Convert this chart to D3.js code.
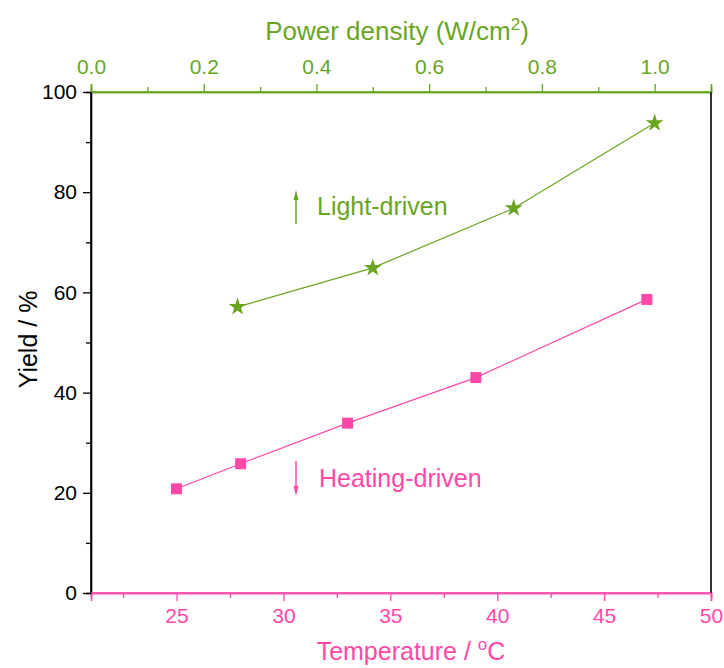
<!DOCTYPE html>
<html>
<head>
<meta charset="utf-8">
<script src="https://cdn.jsdelivr.net/npm/d3@7"></script>
<style>
  body { margin: 0; background: #fff; }
  text { font-family: "Liberation Sans", Arial, sans-serif; }
</style>
</head>
<body>
<div id="chart"></div>
<script>
// heating-driven series (temperature vs yield)
let heatTemp  = [25, 28, 33, 39, 47];
let heatYield = [20.8, 25.8, 33.9, 43.0, 58.6];

// light-driven series (power density vs yield)
let lightPower = [0.26, 0.50, 0.75, 1.00];
let lightYield = [57.1, 64.9, 76.8, 93.8];

let tempTicks  = [25, 30, 35, 40, 45, 50];
let powerTicks = [0.0, 0.2, 0.4, 0.6, 0.8, 1.0];
let yieldTicks = [0, 20, 40, 60, 80, 100];

let green = "#6aa51f";
let pink  = "#ff48a8";

let margin = {top: 92, right: 13, bottom: 75, left: 91};
let width = 724 - margin.left - margin.right,
    height = 668 - margin.top - margin.bottom;

let svg = d3.select("#chart").append("svg")
    .attr("width", 724)
    .attr("height", 668);

let g = svg.append("g")
    .attr("transform", `translate(${margin.left},${margin.top})`);

let xTemp  = d3.scaleLinear().domain([21, 50]).range([0, width]);
let xPower = d3.scaleLinear().domain([0, 1.1]).range([0, width]);
let y      = d3.scaleLinear().domain([0, 100]).range([height, 0]);

let minorTemp = d3.range(22.5, 50, 5);
let minorPower = d3.range(0.1, 1.1, 0.2);
let minorYield = d3.range(10, 100, 20);

function styleAxis(sel, color) {
    sel.attr("font-size", null).attr("font-family", null);
    sel.select(".domain").attr("stroke", color).attr("stroke-width", 1.6);
    sel.selectAll(".tick line").attr("stroke", color).attr("stroke-width", 1.3);
    sel.selectAll(".tick text")
        .attr("fill", color)
        .style("font-size", "21px");
}

// bottom axis (temperature)
let bottomMinor = g.append("g")
    .attr("transform", `translate(0,${height})`)
    .call(d3.axisBottom(xTemp).tickValues(minorTemp).tickSize(5).tickFormat(""));
styleAxis(bottomMinor, pink);
let bottomAxis = g.append("g")
    .attr("transform", `translate(0,${height})`)
    .call(d3.axisBottom(xTemp).tickValues(tempTicks).tickSize(8).tickPadding(7).tickFormat(d3.format("d")));
styleAxis(bottomAxis, pink);

// top axis (power density)
let topMinor = g.append("g")
    .call(d3.axisTop(xPower).tickValues(minorPower).tickSize(5).tickFormat(""));
styleAxis(topMinor, green);
let topAxis = g.append("g")
    .call(d3.axisTop(xPower).tickValues(powerTicks).tickSize(8).tickPadding(10).tickFormat(d3.format(".1f")));
styleAxis(topAxis, green);

// left axis (yield)
let leftMinor = g.append("g")
    .call(d3.axisLeft(y).tickValues(minorYield).tickSize(5).tickFormat(""));
styleAxis(leftMinor, "#000");
let leftAxis = g.append("g")
    .call(d3.axisLeft(y).tickValues(yieldTicks).tickSize(8).tickPadding(6).tickFormat(d3.format("d")));
styleAxis(leftAxis, "#000");
leftAxis.select(".domain").attr("d", `M0,${height}V0`);

// right border
g.append("line")
    .attr("x1", width).attr("x2", width)
    .attr("y1", 0).attr("y2", height)
    .attr("stroke", "#000").attr("stroke-width", 1.6);

// coloured top/bottom lines over the frame
g.append("line").attr("x1", 0).attr("x2", width).attr("y1", 0).attr("y2", 0)
    .attr("stroke", green).attr("stroke-width", 1.6);
g.append("line").attr("x1", 0).attr("x2", width).attr("y1", height).attr("y2", height)
    .attr("stroke", pink).attr("stroke-width", 1.6);

// axis titles
svg.append("text")
    .attr("x", margin.left + width / 2 - 4)
    .attr("y", 40)
    .attr("text-anchor", "middle")
    .attr("fill", green)
    .attr("font-size", 26)
    .html('Power density (W/cm<tspan dy="-10" font-size="17">2</tspan><tspan dy="10">)</tspan>');

svg.append("text")
    .attr("x", margin.left + width / 2 + 10)
    .attr("y", 660)
    .attr("text-anchor", "middle")
    .attr("fill", pink)
    .attr("font-size", 25)
    .html('Temperature / <tspan dy="-10" font-size="17">o</tspan><tspan dy="10">C</tspan>');

svg.append("text")
    .attr("transform", `translate(37,${margin.top + height / 2 - 3}) rotate(-90)`)
    .attr("text-anchor", "middle")
    .attr("fill", "#000")
    .attr("font-size", 25)
    .text("Yield / %");

// heating-driven line + squares
let heatData = heatTemp.map((t, i) => ({x: t, y: heatYield[i]}));
g.append("path")
    .datum(heatData)
    .attr("fill", "none")
    .attr("stroke", pink)
    .attr("stroke-width", 1.2)
    .attr("d", d3.line().x(d => xTemp(d.x)).y(d => y(d.y)));

g.selectAll(".sq")
    .data(heatData)
    .enter().append("rect")
    .attr("class", "sq")
    .attr("x", d => xTemp(d.x) - 5.5)
    .attr("y", d => y(d.y) - 5.5)
    .attr("width", 11)
    .attr("height", 11)
    .attr("fill", pink);

// light-driven line + stars
let lightData = lightPower.map((p, i) => ({x: p, y: lightYield[i]}));
g.append("path")
    .datum(lightData)
    .attr("fill", "none")
    .attr("stroke", green)
    .attr("stroke-width", 1.2)
    .attr("d", d3.line().x(d => xPower(d.x)).y(d => y(d.y)));

let star = d3.symbol().type(d3.symbolStar).size(100);
g.selectAll(".st")
    .data(lightData)
    .enter().append("path")
    .attr("class", "st")
    .attr("transform", d => `translate(${xPower(d.x)},${y(d.y)})`)
    .attr("d", star)
    .attr("fill", green);

// annotation arrows + labels
function arrow(x, y0, y1, color) {
    let dir = y1 < y0 ? 1 : -1;
    svg.append("line")
        .attr("x1", x).attr("x2", x)
        .attr("y1", y0).attr("y2", y1 + dir * 8)
        .attr("stroke", color).attr("stroke-width", 1.5);
    svg.append("path")
        .attr("d", `M${x},${y1}L${x - 2.5},${y1 + dir * 10}L${x + 2.5},${y1 + dir * 10}Z`)
        .attr("fill", color);
}

arrow(296, 224, 190, green);
svg.append("text")
    .attr("x", 317).attr("y", 215)
    .attr("fill", green)
    .attr("font-size", 25)
    .text("Light-driven");

arrow(296, 461, 496, pink);
svg.append("text")
    .attr("x", 319).attr("y", 487)
    .attr("fill", pink)
    .attr("font-size", 25)
    .text("Heating-driven");
</script>
</body>
</html>
